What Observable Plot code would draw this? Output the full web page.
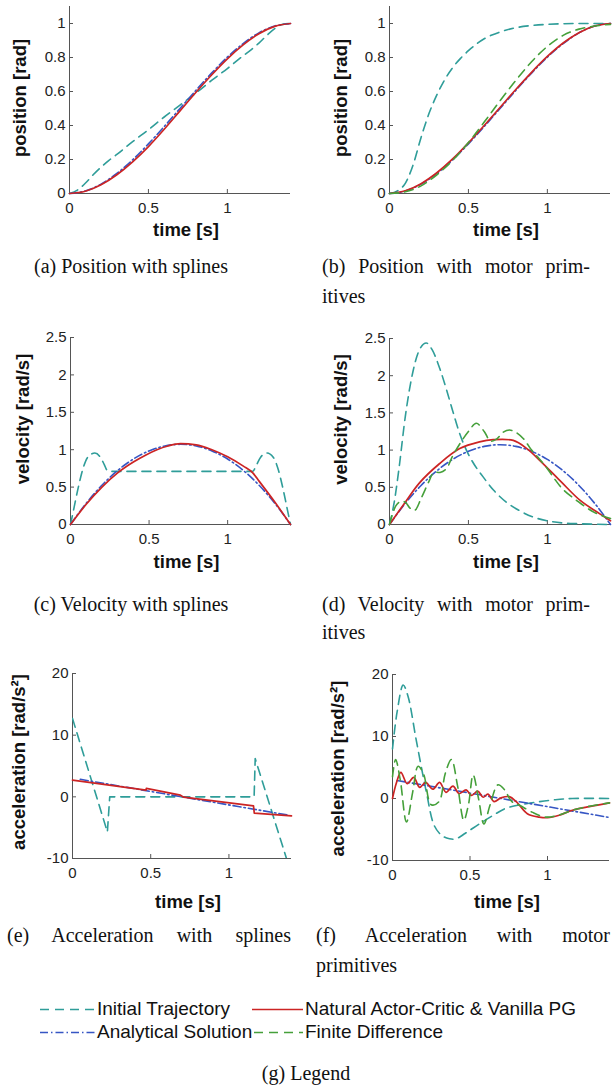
<!DOCTYPE html>
<html><head><meta charset="utf-8">
<script src="https://cdn.jsdelivr.net/npm/d3@7"></script>
<script src="https://cdn.jsdelivr.net/npm/@observablehq/plot@0.6"></script>
<style>
html,body{margin:0;padding:0;background:#fff}
body{position:relative;width:612px;height:1089px;overflow:hidden;font-family:"Liberation Sans",Arial,sans-serif;color:#222}
.panel{position:absolute}
.cap{position:absolute;font-family:"Liberation Serif","Times New Roman",serif;font-size:20px;line-height:30px;color:#111;white-space:nowrap}
.just{text-align:justify;text-align-last:justify;white-space:normal}
.leg{position:absolute;font-size:19px;line-height:24px;white-space:nowrap;color:#111}
.leg svg{position:absolute;top:0}
</style>
</head><body>
<div id="pa" class="panel"></div>
<div id="pb" class="panel"></div>
<div id="pc" class="panel"></div>
<div id="pd" class="panel"></div>
<div id="pe" class="panel"></div>
<div id="pf" class="panel"></div>

<div class="cap" style="left:0;width:262px;text-align:center;top:251px">(a) Position with splines</div>
<div class="cap just" style="left:322px;width:268px;top:251px">(b) Position with motor prim-</div>
<div class="cap" style="left:322px;top:281px">itives</div>
<div class="cap" style="left:0;width:262px;text-align:center;top:589px">(c) Velocity with splines</div>
<div class="cap just" style="left:322px;width:268px;top:589px">(d) Velocity with motor prim-</div>
<div class="cap" style="left:322px;top:617px">itives</div>
<div class="cap just" style="left:7px;width:284px;top:920px">(e) Acceleration with splines</div>
<div class="cap just" style="left:316px;width:294px;top:920px">(f) Acceleration with motor</div>
<div class="cap" style="left:316px;top:950px">primitives</div>

<div id="legend"></div>
<div class="cap" style="left:0;width:612px;text-align:center;top:1058px">(g) Legend</div>

<script>
// ---------- data ----------
const xTicks = [0, 0.5, 1];
const posTicks = [0, 0.2, 0.4, 0.6, 0.8, 1];
const velTicks = [0, 0.5, 1, 1.5, 2, 2.5];
const accTicks = [-10, 0, 10, 20];

const seriesNames = ["Initial Trajectory", "Natural Actor-Critic & Vanilla PG", "Analytical Solution", "Finite Difference"];

// (a) position with splines  [time, value]
const posSplInit = [[0,0],[0.05,0.02],[0.1,0.06],[0.15,0.11],[0.2,0.155],[0.25,0.195],[0.3,0.23],[0.4,0.305],[0.5,0.375],[0.6,0.45],[0.7,0.52],[0.8,0.59],[0.9,0.665],[1.0,0.735],[1.1,0.81],[1.15,0.845],[1.2,0.885],[1.25,0.93],[1.3,0.97],[1.35,0.995],[1.4,1.0]];
const posSplAnalytic = [[0,0],[0.1,0.015],[0.2,0.055],[0.3,0.118],[0.4,0.198],[0.5,0.292],[0.6,0.394],[0.7,0.5],[0.8,0.606],[0.9,0.708],[1.0,0.802],[1.1,0.882],[1.2,0.945],[1.3,0.985],[1.4,1.0]];
const posSplNAC = [[0,0],[0.1,0.013],[0.2,0.051],[0.3,0.11],[0.4,0.186],[0.5,0.276],[0.6,0.378],[0.7,0.486],[0.8,0.594],[0.9,0.697],[1.0,0.792],[1.1,0.874],[1.2,0.94],[1.3,0.983],[1.4,1.0]];

// (b) position with motor primitives
const posMPInit = [[0,0],[0.05,0.015],[0.1,0.06],[0.15,0.17],[0.2,0.33],[0.25,0.47],[0.3,0.58],[0.35,0.67],[0.4,0.74],[0.45,0.795],[0.5,0.84],[0.6,0.91],[0.7,0.95],[0.8,0.975],[0.9,0.988],[1.0,0.995],[1.2,1.0],[1.4,1.0]];
const posMPAnalytic = [[0,0],[0.1,0.015],[0.2,0.055],[0.3,0.118],[0.4,0.198],[0.5,0.292],[0.6,0.394],[0.7,0.5],[0.8,0.606],[0.9,0.708],[1.0,0.802],[1.1,0.882],[1.2,0.945],[1.3,0.985],[1.4,1.0]];
const posMPNAC = [[0,0],[0.1,0.016],[0.2,0.058],[0.3,0.122],[0.4,0.203],[0.5,0.298],[0.6,0.4],[0.7,0.506],[0.8,0.612],[0.9,0.713],[1.0,0.806],[1.1,0.885],[1.2,0.946],[1.3,0.985],[1.4,1.0]];
const posMPFD = [[0,0],[0.1,0.01],[0.2,0.045],[0.3,0.11],[0.4,0.195],[0.5,0.3],[0.6,0.42],[0.7,0.545],[0.8,0.665],[0.9,0.775],[1.0,0.865],[1.1,0.93],[1.2,0.967],[1.3,0.985],[1.4,0.995]];

// (c) velocity with splines
const velSplInit = [[0,0],[0.02,0.2],[0.05,0.5],[0.08,0.75],[0.11,0.9],[0.155,0.955],[0.19,0.9],[0.215,0.8],[0.235,0.72],[0.26,0.71],[0.7,0.71],[1.16,0.71],[1.18,0.78],[1.21,0.9],[1.25,0.955],[1.29,0.9],[1.32,0.75],[1.35,0.5],[1.38,0.2],[1.4,0]];
const velSplAnalytic = [[0,0],[0.1,0.284],[0.2,0.525],[0.3,0.722],[0.4,0.875],[0.5,0.984],[0.6,1.05],[0.7,1.072],[0.8,1.05],[0.9,0.984],[1.0,0.875],[1.1,0.722],[1.2,0.525],[1.3,0.284],[1.4,0]];
const velSplNAC = [[0,0],[0.1,0.27],[0.2,0.5],[0.3,0.69],[0.4,0.835],[0.48,0.93],[0.55,1.0],[0.62,1.05],[0.7,1.08],[0.8,1.065],[0.9,1.0],[1.0,0.905],[1.1,0.78],[1.16,0.69],[1.2,0.58],[1.3,0.3],[1.4,0]];

// (d) velocity with motor primitives
const velMPInit = [[0,0],[0.03,0.3],[0.06,0.75],[0.1,1.45],[0.148,2.05],[0.19,2.35],[0.233,2.44],[0.27,2.35],[0.318,2.1],[0.36,1.82],[0.4,1.53],[0.44,1.25],[0.487,1.0],[0.53,0.83],[0.593,0.64],[0.66,0.46],[0.74,0.3],[0.82,0.19],[0.91,0.1],[1.0,0.05],[1.1,0.02],[1.2,0.01],[1.4,0]];
const velMPAnalytic = [[0,0],[0.1,0.284],[0.2,0.525],[0.3,0.722],[0.4,0.875],[0.5,0.984],[0.6,1.05],[0.7,1.072],[0.8,1.05],[0.9,0.984],[1.0,0.875],[1.1,0.722],[1.2,0.525],[1.3,0.284],[1.4,0]];
const velMPNAC = [[0,0],[0.1,0.3],[0.19,0.56],[0.318,0.82],[0.445,1.02],[0.57,1.11],[0.657,1.14],[0.784,1.13],[0.87,1.02],[0.953,0.86],[1.08,0.59],[1.21,0.32],[1.335,0.14],[1.4,0.05]];
const velMPFD = [[0,0],[0.04,0.25],[0.07,0.31],[0.1,0.3],[0.13,0.22],[0.16,0.19],[0.2,0.35],[0.25,0.58],[0.28,0.7],[0.32,0.7],[0.36,0.75],[0.4,0.92],[0.45,1.1],[0.5,1.25],[0.55,1.36],[0.6,1.25],[0.64,1.12],[0.68,1.15],[0.72,1.24],[0.76,1.27],[0.8,1.24],[0.85,1.15],[0.9,1.0],[0.95,0.88],[1.0,0.75],[1.05,0.6],[1.1,0.47],[1.2,0.3],[1.3,0.16],[1.4,0.08]];

// (e) acceleration with splines
const accSplInit = [[0,12.7],[0.223,-5.7],[0.238,0],[1.161,0],[1.168,6.2],[1.4,-12.6]];
const accSplAnalytic = [[0.05,2.84],[0.35,1.53],[0.7,0],[1.05,-1.53],[1.37,-2.93]];
const accSplNAC = [[0,2.7],[0.47,1.1],[0.472,1.38],[0.69,0.27],[0.71,-0.05],[1.157,-1.46],[1.162,-2.65],[1.4,-3.1]];

// (f) acceleration with motor primitives
const accMPInit = [[0,8],[0.03,14],[0.069,18.3],[0.1,16.5],[0.154,9.3],[0.218,1.1],[0.27,-4.4],[0.32,-6],[0.368,-6.5],[0.41,-6.5],[0.47,-5.6],[0.56,-4.1],[0.65,-2.7],[0.73,-1.6],[0.85,-0.9],[0.95,-0.5],[1.05,-0.2],[1.16,0],[1.4,0]];
const accMPAnalytic = [[0.03,2.9],[0.35,1.53],[0.7,0],[1.05,-1.53],[1.4,-3.06]];
const accMPNAC = [[0,0],[0.025,2.5],[0.054,4.2],[0.095,2.4],[0.137,3.4],[0.175,1.8],[0.214,2.6],[0.26,1.5],[0.304,2.6],[0.345,1.0],[0.39,2.0],[0.43,0.8],[0.475,1.4],[0.51,0.5],[0.55,1.2],[0.585,0.2],[0.615,0.7],[0.655,-0.5],[0.7,0.1],[0.754,0.3],[0.8,-0.55],[0.87,-2.45],[0.946,-3.0],[1.0,-3.1],[1.075,-2.7],[1.16,-1.9],[1.27,-1.3],[1.4,-0.7]];
const accMPFD = [[0,3.5],[0.02,6.3],[0.05,3],[0.09,-3.8],[0.13,1],[0.165,5.2],[0.2,4],[0.25,-1],[0.3,-0.5],[0.34,4],[0.38,6.3],[0.42,2],[0.46,-3.5],[0.49,-1],[0.52,3.8],[0.555,0],[0.59,-4.1],[0.63,-1],[0.68,2.2],[0.72,1.5],[0.77,-0.5],[0.82,-1.1],[0.9,-2.2],[0.99,-3.0],[1.07,-2.7],[1.16,-1.9],[1.28,-1.2],[1.4,-0.7]];

// ---------- styles ----------
const C = {init: "#2f9d99", nac: "#cc2424", ana: "#3656c4", fd: "#45a03a"};
const DASH = {init: "9,6", nac: null, ana: "8,3,1.5,3", fd: "9,6"};
const WID = {init: 1.6, nac: 1.7, ana: 1.6, fd: 1.6};
const axisColor = "#555";
const fmt = d => String(d);

function panel(id, cfg) {
  const {left, top, width, height, mL, mR, mT, mB, yDomain, yTicks, yLabel, yLabelDx, yLabelDy, xLabelDy, lines} = cfg;
  const plotW = width - mL - mR, plotH = height - mT - mB;
  const marks = [
    Plot.ruleX([0], {stroke: axisColor, strokeWidth: 1}),
    Plot.ruleY([yDomain[0]], {stroke: axisColor, strokeWidth: 1}),
    Plot.tickX(xTicks, {x: d => d, stroke: axisColor, insetTop: plotH - 4}),
    Plot.tickY(yTicks, {y: d => d, stroke: axisColor, insetRight: plotW - 4}),
    Plot.axisX(xTicks, {tickSize: 0, tickPadding: 9, tickFormat: fmt, label: null, fontSize: 15}),
    Plot.axisY(yTicks, {tickSize: 0, tickPadding: 4, tickFormat: fmt, label: null, fontSize: 15})
  ];
  for (const L of lines) {
    marks.push(Plot.line(L.data, {
      x: d => d[0], y: d => d[1],
      stroke: C[L.k], strokeWidth: WID[L.k], strokeDasharray: DASH[L.k],
      curve: L.curve || "monotone-x", clip: !!L.clip
    }));
  }
  marks.push(Plot.text(["time [s]"], {text: d => d, frameAnchor: "bottom", textAnchor: "middle", dx: 6, dy: xLabelDy, lineAnchor: "middle", fontWeight: "bold", fontSize: 18.5, fill: "#111"}));
  marks.push(Plot.text([yLabel], {text: d => d, frameAnchor: "left", textAnchor: "middle", dx: -yLabelDx, dy: yLabelDy, rotate: -90, lineAnchor: "middle", fontWeight: "bold", fontSize: 18.5, fill: "#111"}));
  const svg = Plot.plot({
    width, height, marginLeft: mL, marginRight: mR, marginTop: mT, marginBottom: mB,
    x: {domain: [0, 1.4]},
    y: {domain: yDomain},
    style: {fontFamily: "'Liberation Sans', Arial, sans-serif", fontSize: "15px", color: "#222", background: "transparent", overflow: "visible"},
    marks
  });
  const el = document.getElementById(id);
  el.style.left = left + "px"; el.style.top = top + "px";
  el.appendChild(svg);
}

panel("pa", {left: 0, top: 0, width: 306, height: 250, mL: 69, mR: 16, mT: 6, mB: 57,
  yDomain: [0, 1.1], yTicks: posTicks, yLabel: "position [rad]", yLabelDx: 49, yLabelDy: -2, xLabelDy: 37,
  lines: [{k: "init", data: posSplInit}, {k: "ana", data: posSplAnalytic}, {k: "nac", data: posSplNAC}]});
panel("pb", {left: 306, top: 0, width: 306, height: 250, mL: 83, mR: 2, mT: 6, mB: 57,
  yDomain: [0, 1.1], yTicks: posTicks, yLabel: "position [rad]", yLabelDx: 48, yLabelDy: -2, xLabelDy: 37,
  lines: [{k: "init", data: posMPInit}, {k: "ana", data: posMPAnalytic}, {k: "nac", data: posMPNAC}, {k: "fd", data: posMPFD}]});
panel("pc", {left: 0, top: 320, width: 306, height: 260, mL: 70, mR: 16, mT: 17, mB: 56,
  yDomain: [0, 2.5], yTicks: velTicks, yLabel: "velocity [rad/s]", yLabelDx: 47, yLabelDy: -12, xLabelDy: 38,
  lines: [{k: "init", data: velSplInit}, {k: "ana", data: velSplAnalytic}, {k: "nac", data: velSplNAC}]});
panel("pd", {left: 306, top: 320, width: 306, height: 260, mL: 83, mR: 2, mT: 18, mB: 56,
  yDomain: [0, 2.5], yTicks: velTicks, yLabel: "velocity [rad/s]", yLabelDx: 48, yLabelDy: -12, xLabelDy: 38,
  lines: [{k: "init", data: velMPInit}, {k: "ana", data: velMPAnalytic}, {k: "nac", data: velMPNAC, curve: "catmull-rom"}, {k: "fd", data: velMPFD, curve: "catmull-rom"}]});
panel("pe", {left: 0, top: 640, width: 306, height: 270, mL: 72, mR: 15, mT: 33, mB: 52,
  yDomain: [-10, 20], yTicks: accTicks, yLabel: "acceleration [rad/s²]", yLabelDx: 53, yLabelDy: -4, xLabelDy: 44,
  lines: [{k: "init", data: accSplInit, curve: "linear", clip: true}, {k: "ana", data: accSplAnalytic, curve: "linear"}, {k: "nac", data: accSplNAC, curve: "linear"}]});
panel("pf", {left: 306, top: 640, width: 306, height: 270, mL: 86, mR: 3, mT: 34, mB: 50,
  yDomain: [-10, 20], yTicks: accTicks, yLabel: "acceleration [rad/s²]", yLabelDx: 54, yLabelDy: 1, xLabelDy: 42,
  lines: [{k: "init", data: accMPInit, curve: "catmull-rom"}, {k: "ana", data: accMPAnalytic, curve: "linear"}, {k: "nac", data: accMPNAC, curve: "catmull-rom"}, {k: "fd", data: accMPFD, curve: "catmull-rom"}]});

// ---------- legend ----------
const legendItems = [
  {k: "init", name: seriesNames[0], sx: 40, tx: 97, y: 997},
  {k: "nac", name: seriesNames[1], sx: 252, tx: 305, y: 997},
  {k: "ana", name: seriesNames[2], sx: 40, tx: 97, y: 1020},
  {k: "fd", name: seriesNames[3], sx: 254, tx: 305, y: 1020}
];
const legend = document.getElementById("legend");
for (const it of legendItems) {
  const box = document.createElement("div");
  box.className = "leg";
  box.style.left = it.sx + "px"; box.style.top = it.y + "px";
  const sw = it.tx - it.sx - 2;
  const dash = DASH[it.k] ? ` stroke-dasharray="${DASH[it.k]}"` : "";
  box.innerHTML = `<svg width="${sw}" height="24" style="left:0"><line x1="0" x2="${sw}" y1="12.5" y2="12.5" stroke="${C[it.k]}" stroke-width="${WID[it.k]}"${dash}/></svg><span style="position:absolute;left:${it.tx - it.sx}px;top:0">${it.name.replace("&", "&amp;")}</span>`;
  legend.appendChild(box);
}
</script>
</body></html>
